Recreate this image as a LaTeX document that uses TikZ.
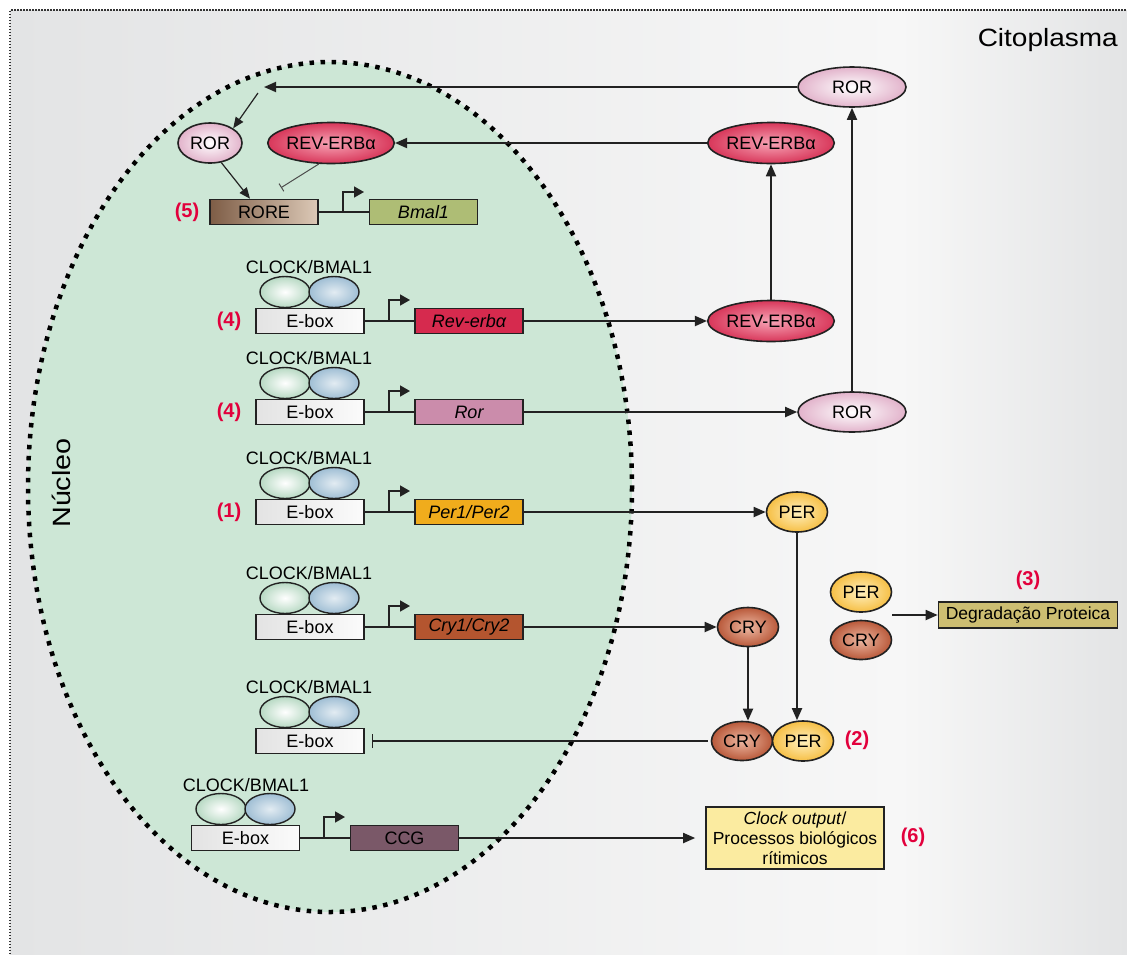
\documentclass[tikz,border=0pt]{standalone}
\usepackage{fontspec}
\setmainfont{Liberation Sans}
\usetikzlibrary{shapes.geometric,arrows.meta}
\definecolor{bgdark}{HTML}{E3E4E5}
\definecolor{bglight}{HTML}{F7F7F7}
\definecolor{nucfill}{HTML}{CDE7D6}
\definecolor{numred}{HTML}{E2003C}
\definecolor{rorout}{HTML}{E2B3CB}
\definecolor{revout}{HTML}{D8375A}
\definecolor{revin}{HTML}{F7A3B5}
\definecolor{perout}{HTML}{F6BF45}
\definecolor{perin}{HTML}{FFF0BF}
\definecolor{cryout}{HTML}{B9593A}
\definecolor{cryin}{HTML}{EDB8A2}
\definecolor{clgreen}{HTML}{B7D9C3}
\definecolor{clblue}{HTML}{9FBED4}
\definecolor{roreA}{HTML}{7E5D46}
\definecolor{roreB}{HTML}{DCC9B7}
\definecolor{bmalA}{HTML}{AEBD75}
\definecolor{bmalB}{HTML}{DDE5BD}
\definecolor{revgA}{HTML}{D62A4E}
\definecolor{revgB}{HTML}{F598AD}
\definecolor{rorgA}{HTML}{CB8CAB}
\definecolor{rorgB}{HTML}{F0D6E2}
\definecolor{pergA}{HTML}{F0AC1C}
\definecolor{pergB}{HTML}{FCDB8E}
\definecolor{crygA}{HTML}{B4552F}
\definecolor{crygB}{HTML}{E6A88C}
\definecolor{ccgA}{HTML}{7A5868}
\definecolor{ccgB}{HTML}{C9B0BC}
\definecolor{degA}{HTML}{CDBE72}
\definecolor{degB}{HTML}{E9E0A8}
\definecolor{outA}{HTML}{FBEBA0}
\definecolor{outB}{HTML}{FFF9DA}
\definecolor{ink}{HTML}{222222}
\newcommand\lab{\fontsize{18}{20}\selectfont}
\newcommand\bigtxt{\fontsize{25}{28}\selectfont}
\tikzset{
  prot/.style={ellipse, draw=ink, line width=1.6pt, inner sep=0pt, font=\lab},
  rorp/.style={prot, minimum width=108pt, minimum height=40pt, inner color=white, outer color=rorout},
  rorsmall/.style={prot, minimum width=64pt, minimum height=40pt, inner color=white, outer color=rorout},
  revp/.style={prot, minimum width=109pt, minimum height=41pt, inner color=revin, outer color=revout},
  perp/.style={prot, minimum width=61pt, minimum height=40pt, inner color=perin, outer color=perout},
  cryp/.style={prot, minimum width=61pt, minimum height=39pt, inner color=cryin, outer color=cryout},
  clg/.style={ellipse, draw=ink, line width=1.4pt, minimum width=50pt, minimum height=31pt, inner sep=0pt, inner color=white, outer color=clgreen},
  clb/.style={ellipse, draw=ink, line width=1.4pt, minimum width=50pt, minimum height=31pt, inner sep=0pt, inner color=white!70!clblue, outer color=clblue},
  cltxt/.style={font=\lab, inner sep=0pt},
  box/.style={rectangle, draw=ink, line width=1.6pt, minimum width=108pt, minimum height=25pt, inner sep=0pt, font=\lab},
  ebox/.style={box, left color=gray!22, right color=gray!3},
  gene/.style={box, font=\lab\itshape},
  num/.style={font=\fontsize{20}{22}\selectfont\bfseries, text=numred, inner sep=0pt},
  arr/.style={-{Triangle[length=12pt,width=10pt]}, line width=1.8pt, draw=ink},
  thinarr/.style={-{Triangle[length=11pt,width=9pt]}, line width=1.2pt, draw=ink},
  lnk/.style={line width=1.8pt, draw=ink},
  prom/.style={-{Triangle[length=10pt,width=11pt]}, line width=1.6pt, draw=ink},
  inh/.style={-{Bar[width=14pt]}, line width=1.6pt, draw=ink},
}
\begin{document}
\begin{tikzpicture}[x=1pt,y=-1pt]
\useasboundingbox (0,0) rectangle (1127,954);
% cytoplasm background
\shade[left color=bgdark, right color=bglight] (10,10) rectangle (900,954);
\shade[left color=bglight, right color=bgdark] (900,10) rectangle (1127,954);
\draw[line width=1.5pt, dash pattern=on 1.5pt off 1.5pt, draw=black!80] (10,954) -- (10,10) -- (1127,10);
\node[font=\bigtxt, anchor=east, inner sep=0pt] (cito) at (1118,40) {\scalebox{1.12}[1]{Citoplasma}};
% nucleus
\fill[nucfill] (330,487) ellipse [x radius=302, y radius=425];
\draw[line width=4.5pt, line cap=butt, dash pattern=on 4.5pt off 6.5pt] (330,487) ellipse [x radius=302, y radius=425];
\node[font=\bigtxt, rotate=90, inner sep=0pt] (nuc) at (61,483) {\scalebox{1.15}[1]{Núcleo}};

% ---- cytoplasm proteins (top)
\node[rorp] (rortop) at (852,87) {ROR};
\node[revp] (revtop) at (771,143) {REV-ERBα};
\node[rorsmall] (rorin) at (210,143) {ROR};
\node[revp] (revin) at (331,143) {REV-ERBα};
\coordinate (tp) at (264,87);
\coordinate (tq) at (258,93);
\draw[arr] (rortop) -- (tp);
\draw[thinarr] (tq) -- (rorin.north east);
\draw[arr] (revtop) -- (revin);

% ---- row: RORE / Bmal1
\node[num] (n5) at (187,212) {(5)};
\node[box, left color=roreA, right color=roreB] (rore) at (264,212) {RORE};
\node[gene, left color=bmalA, middle color=bmalB, right color=bmalA] (bmal) at (423.5,212) {Bmal1};
\draw[lnk] (rore) -- (bmal);
\draw[prom] (343,212) -- (343,192) -- (364,192);
\draw[thinarr] (rorin.300) -- ([xshift=-14pt]rore.north);
\draw[-{Bar[width=9pt]}, line width=1pt, draw=gray!60!black] (revin.240) -- ([xshift=17pt,yshift=11pt]rore.north);

% ---- row: Rev-erb
\node[cltxt] (t2) at (309,267) {CLOCK/BMAL1};
\node[clg] (a2) at (285,292) {};
\node[clb] (b2) at (334,292) {};
\node[ebox] (e2) at (310,321) {E-box};
\node[num] (n2) at (229,321) {(4)};
\node[gene, left color=revgA, middle color=revgB, right color=revgA] (g2) at (469,321) {Rev-erbα};
\draw[lnk] (e2) -- (g2);
\draw[prom] (389,321) -- (389,300) -- (410,300);
\node[revp] (revmid) at (771,321) {REV-ERBα};
\draw[arr] (g2) -- (revmid);
\draw[arr] (revmid) -- (revtop);

% ---- row: Ror
\node[cltxt] (t3) at (309,358) {CLOCK/BMAL1};
\node[clg] (a3) at (285,383) {};
\node[clb] (b3) at (334,383) {};
\node[ebox] (e3) at (310,412) {E-box};
\node[num] (n3) at (229,412) {(4)};
\node[gene, left color=rorgA, middle color=rorgB, right color=rorgA] (g3) at (469,412) {Ror};
\draw[lnk] (e3) -- (g3);
\draw[prom] (389,412) -- (389,391) -- (410,391);
\node[rorp] (rormid) at (852,412) {ROR};
\draw[arr] (g3) -- (rormid);
\draw[arr] (rormid) -- (rortop);

% ---- row: Per
\node[cltxt] (t4) at (309,458) {CLOCK/BMAL1};
\node[clg] (a4) at (285,483) {};
\node[clb] (b4) at (334,483) {};
\node[ebox] (e4) at (310,512) {E-box};
\node[num] (n4) at (229,512) {(1)};
\node[gene, left color=pergA, middle color=pergB, right color=pergA] (g4) at (469,512) {Per1/Per2};
\draw[lnk] (e4) -- (g4);
\draw[prom] (389,512) -- (389,491) -- (410,491);
\node[perp] (per) at (797,512) {PER};
\draw[arr] (g4) -- (per);

% ---- row: Cry
\node[cltxt] (t5) at (309,573) {CLOCK/BMAL1};
\node[clg] (a5) at (285,598) {};
\node[clb] (b5) at (334,598) {};
\node[ebox] (e5) at (310,627) {E-box};
\node[gene, left color=crygA, middle color=crygB, right color=crygA] (g5) at (469,627) {Cry1/Cry2};
\draw[lnk] (e5) -- (g5);
\draw[prom] (389,627) -- (389,606) -- (410,606);
\node[cryp] (cry) at (748,627) {CRY};
\draw[arr] (g5) -- (cry);

% ---- row: repression
\node[cltxt] (t6) at (309,687) {CLOCK/BMAL1};
\node[clg] (a6) at (285,712) {};
\node[clb] (b6) at (334,712) {};
\node[ebox] (e6) at (310,741) {E-box};
\node[cryp] (crycx) at (742,741) {CRY};
\node[perp] (percx) at (803,741) {PER};
\node[num] (n6) at (857,740) {(2)};
\draw[arr] (cry) -- (cry|-crycx.north);
\draw[arr] (per) -- (per|-percx.north);
\draw[inh, shorten >=7pt, shorten <=3pt] (crycx) -- (e6);

% ---- degradation
\node[perp] (perd) at (861,592) {PER};
\node[cryp] (cryd) at (861,640) {CRY};
\node[box, minimum width=179pt, minimum height=26pt, font=\fontsize{17.5}{19}\selectfont, left color=degA, middle color=degB, right color=degA] (deg) at (1028,615) {Degradação Proteica};
\node[num] (n3d) at (1028,580) {(3)};
\coordinate (dstart) at (892,615);
\draw[arr] (dstart) -- (deg);

% ---- row: CCG
\node[cltxt] (t7) at (246,785) {CLOCK/BMAL1};
\node[clg] (a7) at (221,809) {};
\node[clb] (b7) at (270,809) {};
\node[ebox] (e7) at (245.5,838) {E-box};
\node[gene, font=\lab, left color=ccgA, middle color=ccgB, right color=ccgA] (g7) at (404.5,838) {CCG};
\draw[lnk] (e7) -- (g7);
\draw[prom] (324,838) -- (324,817) -- (345,817);
\node[box, minimum width=178pt, minimum height=62pt, align=center, font=\fontsize{17.5}{20}\selectfont, left color=outA, middle color=outB, right color=outA] (out) at (795,838) {\textit{Clock output}/\\Processos biológicos\\rítimicos};
\node[num] (n7) at (913,837) {(6)};
\draw[arr, shorten >=10pt] (g7) -- (out);
\end{tikzpicture}
\end{document}
